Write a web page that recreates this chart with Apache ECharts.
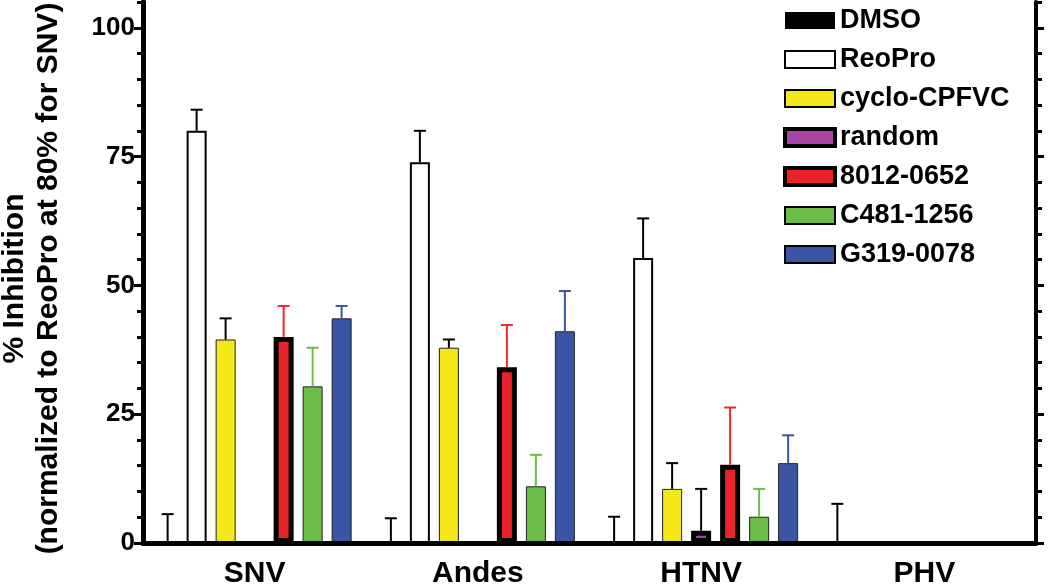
<!DOCTYPE html>
<html><head><meta charset="utf-8">
<script src="https://cdn.jsdelivr.net/npm/echarts@6/dist/echarts.min.js"></script>
<style>html,body{margin:0;padding:0;background:#fff}#c{width:1050px;height:585px}</style>
</head><body><div id="c"></div>
<script>
// ---- data ----
const categories = ['SNV', 'Andes', 'HTNV', 'PHV'];
const seriesNames = ['DMSO', 'ReoPro', 'cyclo-CPFVC', 'random', '8012-0652', 'C481-1256', 'G319-0078'];
const dmso      = [0, 0, 0, 0];
const dmsoErr   = [5.6, 4.8, 5.1, 7.6];
const reopro    = [80.0, 73.9, 55.3, '-'];
const reoproErr = [84.1, 80.0, 63.0, '-'];
const cyclo     = [39.5, 37.9, 10.5, '-'];
const cycloErr  = [43.6, 39.5, 15.5, '-'];
const random    = ['-', '-', 2.4, '-'];
const randomErr = ['-', '-', 10.5, '-'];
const c8012     = [40.0, 34.1, 15.2, '-'];
const c8012Err  = [46.0, 42.3, 26.3, '-'];
const c481      = [30.4, 11.0, 5.1, '-'];
const c481Err   = [37.9, 17.1, 10.5, '-'];
const g319      = [43.6, 41.1, 15.5, '-'];
const g319Err   = [46.0, 48.9, 20.9, '-'];
const yTickLabels = [0, 25, 50, 75, 100];

const values = [dmso, reopro, cyclo, random, c8012, c481, g319];
const errs = [dmsoErr, reoproErr, cycloErr, randomErr, c8012Err, c481Err, g319Err];

// ---- styles ----
const FONT = '"Liberation Sans", Arial, Helvetica, sans-serif';
const BAR_W = 20, GAP_RATIO = 0.45, STEP = BAR_W * (1 + GAP_RATIO);
const styles = [
  {color: '#000000', borderColor: '#000', borderWidth: 0},
  {color: '#ffffff', borderColor: '#000', borderWidth: 2},
  {color: '#f4e81a', borderColor: '#222', borderWidth: 1},
  {color: '#a945a4', borderColor: '#000', borderWidth: 5},
  {color: '#e8242a', borderColor: '#000', borderWidth: 5},
  {color: '#6cbd45', borderColor: '#222', borderWidth: 1},
  {color: '#3a55a4', borderColor: '#222', borderWidth: 1}
];
const errColors = ['#000', '#000', '#000', '#000', '#ee2a2e', '#6cbd45', '#3a55a4'];

const barSeries = seriesNames.map((n, s) => ({
  name: n, type: 'bar', data: values[s], barWidth: BAR_W, barGap: (GAP_RATIO * 100) + '%',
  itemStyle: styles[s], z: 2, animation: false
}));

const errData = [];
values.forEach((vals, s) => vals.forEach((v, i) => {
  if (v !== '-') errData.push([i, v, errs[s][i], s]);
}));

const errSeries = {
  type: 'custom', name: 'err', data: errData, z: 3, animation: false,
  encode: {x: 0, y: [1, 2]},
  renderItem: (params, api) => {
    const ci = api.value(0), v = api.value(1), e = api.value(2), s = api.value(3);
    const b = api.coord([ci, v]), t = api.coord([ci, e]);
    const x = b[0] + (s - 3) * STEP;
    const st = {stroke: errColors[s], lineWidth: 2};
    return {type: 'group', children: [
      {type: 'line', shape: {x1: x, y1: b[1], x2: x, y2: t[1]}, style: st},
      {type: 'line', shape: {x1: x - 6, y1: t[1], x2: x + 6, y2: t[1]}, style: st}
    ]};
  }
};

const yBase = {type: 'value', min: 0, max: 105, splitLine: {show: false}};

const option = {
  backgroundColor: '#fff',
  animation: false,
  grid: {left: 143, right: 14, top: 2, bottom: 42, containLabel: false, outerBoundsMode: 'none'},
  legend: {
    orient: 'vertical', left: 783, top: 7, padding: 0, itemWidth: 50, itemHeight: 17, itemGap: 12,
    icon: 'rect',
    textStyle: {fontFamily: FONT, fontWeight: 'bold', fontSize: 27, color: '#000', lineHeight: 27},
    data: seriesNames.map((n, s) => ({name: n, itemStyle: {
      color: styles[s].color, borderColor: '#000',
      borderWidth: s === 0 ? 0 : (styles[s].borderWidth >= 5 ? 4 : 2)
    }}))
  },
  xAxis: [
    {type: 'category', data: categories, position: 'bottom', z: 5,
     axisLine: {lineStyle: {color: '#000', width: 5}}, axisTick: {show: false},
     axisLabel: {fontFamily: FONT, fontWeight: 'bold', fontSize: 30, color: '#000', margin: 16}},
    {type: 'category', data: categories, position: 'top', z: 5,
     axisLine: {lineStyle: {color: '#000', width: 3}}, axisTick: {show: false}, axisLabel: {show: false}}
  ],
  yAxis: [
    Object.assign({}, yBase, {position: 'left', interval: 5, z: 5,
      axisLine: {show: true, lineStyle: {color: '#000', width: 5}},
      axisTick: {show: true, length: 6, lineStyle: {color: '#000', width: 3}},
      axisLabel: {show: false},
      name: '% Inhibition\n(normalized to ReoPro at 80% for SNV)', nameLocation: 'middle', nameGap: 77,
      nameTextStyle: {fontFamily: FONT, fontWeight: 'bold', fontSize: 30, color: '#000', lineHeight: 34,
        padding: [0, 12, 0, 0]}}),
    Object.assign({}, yBase, {position: 'left', interval: 25, z: 5,
      axisLine: {show: false},
      axisTick: {show: true, length: 9, customValues: yTickLabels, lineStyle: {color: '#000', width: 3}},
      axisLabel: {customValues: yTickLabels, fontFamily: FONT, fontWeight: 'bold', fontSize: 26, color: '#000', margin: 8}}),
    Object.assign({}, yBase, {position: 'right', interval: 5, z: 5,
      axisLine: {show: true, lineStyle: {color: '#000', width: 4}},
      axisTick: {show: true, length: 6, lineStyle: {color: '#000', width: 3}},
      axisLabel: {show: false}}),
    Object.assign({}, yBase, {position: 'right', interval: 25, z: 5,
      axisLine: {show: false},
      axisTick: {show: true, length: 8, customValues: yTickLabels, lineStyle: {color: '#000', width: 3}},
      axisLabel: {show: false}})
  ],
  series: barSeries.concat([errSeries])
};

const chart = echarts.init(document.getElementById('c'), null, {renderer: 'canvas'});
chart.setOption(option);
</script>
</body></html>
